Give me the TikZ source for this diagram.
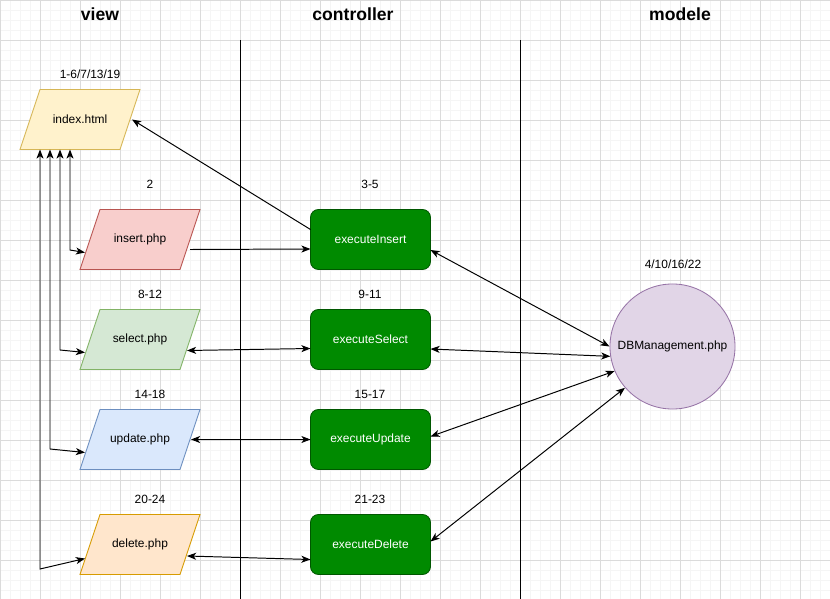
\documentclass[tikz,border=0pt]{standalone}
\usepackage{fontspec}
\setmainfont{Liberation Sans}
\usetikzlibrary{arrows.meta,calc}
\definecolor{idxfill}{HTML}{FFF2CC}\definecolor{idxline}{HTML}{D6B656}
\definecolor{insfill}{HTML}{F8CECC}\definecolor{insline}{HTML}{B85450}
\definecolor{selfill}{HTML}{D5E8D4}\definecolor{selline}{HTML}{82B366}
\definecolor{updfill}{HTML}{DAE8FC}\definecolor{updline}{HTML}{6C8EBF}
\definecolor{delfill}{HTML}{FFE6CC}\definecolor{delline}{HTML}{D79B00}
\definecolor{ctrlfill}{HTML}{008A00}\definecolor{ctrlline}{HTML}{005700}
\definecolor{dbfill}{HTML}{E1D5E7}\definecolor{dbline}{HTML}{9673A6}
\begin{document}
\begin{tikzpicture}[x=0.025cm,y=-0.025cm,
  page/.style={rectangle, minimum width=3cm, minimum height=1.5cm,
    inner sep=0pt, outer sep=0pt, font=\fontsize{8.5}{10}\selectfont},
  ctrl/.style={rectangle, rounded corners=0.2cm, draw=ctrlline, fill=ctrlfill, text=white,
    minimum width=3cm, minimum height=1.5cm, line width=0.6pt, font=\fontsize{8.5}{10}\selectfont},
  num/.style={inner sep=0pt, font=\fontsize{8.5}{10}\selectfont},
  title/.style={inner sep=0pt, font=\fontsize{12.5}{14}\selectfont\bfseries},
  tip/.tip={Stealth[length=6.5pt,width=5pt,inset=1.8pt]},
  onearrow/.style={line width=0.7pt, -tip},
  twoarrow/.style={line width=0.7pt, tip-tip}]
\useasboundingbox (0,0) rectangle (830,599);
\fill[white] (0,0) rectangle (830,599);
% grid
\foreach \g in {0,10,...,830} \draw[black!4, line width=0.4pt] (\g,0) -- (\g,599);
\foreach \g in {0,10,...,590} \draw[black!4, line width=0.4pt] (0,\g) -- (830,\g);
\foreach \g in {0,40,...,830} \draw[black!14, line width=0.5pt] (\g,0) -- (\g,599);
\foreach \g in {0,40,...,590} \draw[black!14, line width=0.5pt] (0,\g) -- (830,\g);
% columns
\node[title] (tview) at (100,14) {view};
\node[title] (tctrl) at (353,14) {controller};
\node[title] (tmod) at (680,14) {modele};
\draw[line width=0.7pt] (240,40) -- (240,599);
\draw[line width=0.7pt] (520,40) -- (520,599);
% view
\foreach \nm/\cx/\cy/\cl/\tx in {index/80/119.5/idx/index.html, insert/140/239.5/ins/insert.php,
    select/140/339.5/sel/select.php, update/140/439.5/upd/update.php, delete/140/544.5/del/delete.php}{
  \draw[line width=0.6pt, draw=\cl line, fill=\cl fill]
    (\cx-40,\cy-30) -- (\cx+60,\cy-30) -- (\cx+40,\cy+30) -- (\cx-60,\cy+30) -- cycle;
  \node[page] (\nm) at (\cx,\cy) {\tx};
}
\node[num] (nidx) at (90,74) {1-6/7/13/19};
\node[num] (nins) at (150,184) {2};
\node[num] (nsel) at (150,294) {8-12};
\node[num] (nupd) at (150,394) {14-18};
\node[num] (ndel) at (150,499) {20-24};
% controller
\node[ctrl] (exins) at (370.5,239.5) {executeInsert};
\node[ctrl] (exsel) at (370.5,339.5) {executeSelect};
\node[ctrl] (exupd) at (370.5,439.5) {executeUpdate};
\node[ctrl] (exdel) at (370.5,544.5) {executeDelete};
\node[num] (nexins) at (370,184) {3-5};
\node[num] (nexsel) at (370,294) {9-11};
\node[num] (nexupd) at (370,394) {15-17};
\node[num] (nexdel) at (370,499) {21-23};
% modele
\node[circle, draw=dbline, fill=dbfill, line width=0.6pt, minimum size=3.125cm, inner sep=0pt,
  font=\fontsize{8.5}{10}\selectfont] (db) at (672.5,346.5) {DBManagement.php};
\node[num] (ndb) at (673,264) {4/10/16/22};
% links view <-> index
\coordinate (bins) at (70,250);
\coordinate (bsel) at (60,350);
\coordinate (bupd) at (50,449);
\coordinate (bdel) at (40,569);
\draw[twoarrow] ($(index.center)+(-10,30)$) -- (bins) -- ($(insert.center)+(-55,13)$);
\draw[twoarrow] ($(index.center)+(-20,30)$) -- (bsel) -- ($(select.center)+(-55,13)$);
\draw[twoarrow] ($(index.center)+(-30,30)$) -- (bupd) -- ($(update.center)+(-55,13)$);
\draw[twoarrow] ($(index.center)+(-40,30)$) -- (bdel) -- ($(delete.center)+(-55,14)$);
% links view <-> controller
\draw[onearrow] ($(exins.center)+(-60,-10)$) -- ($(index.center)+(52,0)$);
\draw[onearrow] ($(insert.center)+(50,10)$) -- ($(exins.center)+(-60,9.5)$);
\draw[twoarrow] ($(select.center)+(47,11)$) -- ($(exsel.center)+(-60,9)$);
\draw[twoarrow] ($(update.center)+(51,0)$) -- ($(exupd.center)+(-60,0)$);
\draw[twoarrow] ($(delete.center)+(47,11.5)$) -- ($(exdel.center)+(-60,15)$);
% links controller <-> modele
\draw[twoarrow] ($(exins.center)+(60,10.5)$) -- (db.180);
\draw[twoarrow] ($(exsel.center)+(60,9.5)$) -- (db.189);
\draw[twoarrow] ($(exupd.center)+(60,-3)$) -- (db.203);
\draw[twoarrow] ($(exdel.center)+(60,-3)$) -- (db.221);
\end{tikzpicture}
\end{document}
